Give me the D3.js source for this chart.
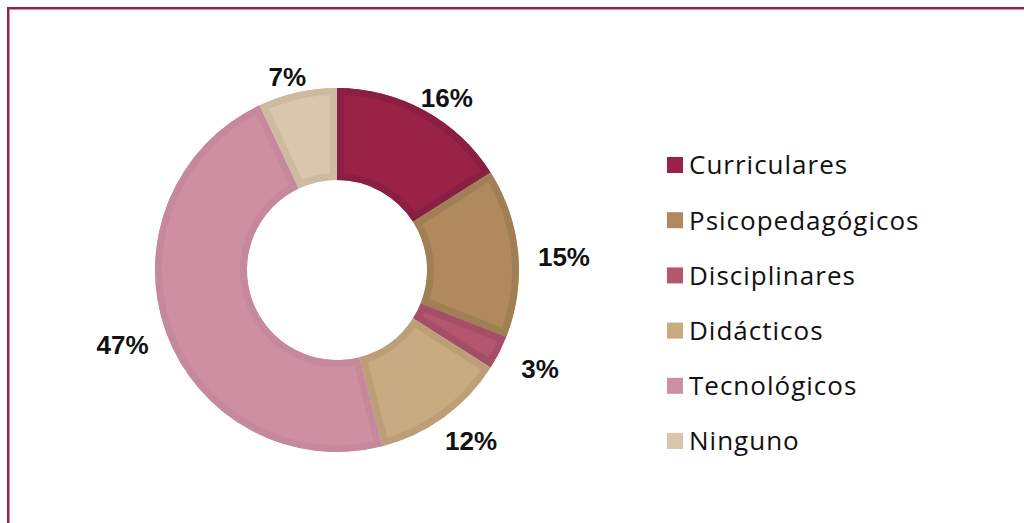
<!DOCTYPE html>
<html>
<head>
<meta charset="utf-8">
<script src="https://cdn.jsdelivr.net/npm/d3@7"></script>
<style>
  html, body { margin: 0; padding: 0; background: #fff; }
  svg { display: block; }
</style>
</head>
<body>
<div id="chart"></div>
<script>
const categories = ["Curriculares", "Psicopedagógicos", "Disciplinares", "Didácticos", "Tecnológicos", "Ninguno"];
const values = [16, 15, 3, 12, 47, 7];
const fillColors = ["#9b2247", "#b08a5c", "#b5566f", "#c9ab82", "#cf8fa3", "#d9c6ab"];
const edgeColors = ["#8b1f43", "#a07f55", "#a44f67", "#bc9f79", "#c6889c", "#cdbaa0"];

const width = 1024;
const height = 523;
const cx = 337;
const cy = 270;
const outerR = 182;
const innerR = 90;

const svg = d3.select("#chart")
    .append("svg")
    .attr("width", width)
    .attr("height", height);

// frame (only top and left edges are visible)
svg.append("rect")
    .attr("x", 8).attr("y", 8)
    .attr("width", width + 20).attr("height", height + 20)
    .attr("fill", "none")
    .attr("stroke", "#9b2247")
    .attr("stroke-width", 2);
svg.append("rect")
    .attr("x", 9.5).attr("y", 9.5)
    .attr("width", width + 20).attr("height", height + 20)
    .attr("fill", "none")
    .attr("stroke", "#d98aa3")
    .attr("stroke-width", 1);

const pie = d3.pie().sort(null).value(d => d.value);
const arcs = pie(categories.map((c, i) => ({ name: c, value: values[i], i })));

const arc = d3.arc().innerRadius(innerR).outerRadius(outerR);

const g = svg.append("g").attr("transform", `translate(${cx},${cy})`);
const defs = svg.append("defs");

arcs.forEach((d, i) => {
    defs.append("clipPath")
        .attr("id", "clip" + i)
        .append("path")
        .attr("d", arc(d));
});

g.selectAll("path.slice")
    .data(arcs)
    .enter()
    .append("path")
    .attr("class", "slice")
    .attr("d", arc)
    .attr("clip-path", (d, i) => `url(#clip${i})`)
    .attr("fill", (d, i) => fillColors[i])
    .attr("stroke", (d, i) => edgeColors[i])
    .attr("stroke-width", 14)
    .attr("stroke-linejoin", "miter");

// outside percent labels
const labelRx = 228;
const labelRy = 204;
const labelDy = 6;
g.selectAll("text.pct")
    .data(arcs)
    .enter()
    .append("text")
    .attr("class", "pct")
    .attr("x", d => Math.sin((d.startAngle + d.endAngle) / 2) * labelRx)
    .attr("y", d => -Math.cos((d.startAngle + d.endAngle) / 2) * labelRy + labelDy)
    .attr("dy", "0.36em")
    .attr("text-anchor", "middle")
    .style("font-family", "'Liberation Sans', Arial, sans-serif")
    .style("font-weight", "bold")
    .style("font-size", "26px")
    .attr("fill", "#111")
    .text(d => d.data.value + "%");

// legend
const legendY = d3.scalePoint()
    .domain(categories)
    .range([165, 441]);

const legend = svg.append("g").attr("class", "legend");
const items = legend.selectAll("g")
    .data(categories)
    .enter()
    .append("g")
    .attr("transform", d => `translate(667,${legendY(d)})`);

items.append("rect")
    .attr("x", 0).attr("y", -8)
    .attr("width", 16).attr("height", 16)
    .attr("fill", (d, i) => fillColors[i]);

items.append("text")
    .attr("x", 22)
    .attr("dy", "0.36em")
    .style("font-family", "'Open Sans', sans-serif")
    .style("font-size", "26px")
    .style("letter-spacing", "1px")
    .attr("fill", "#111")
    .text(d => d);
</script>
</body>
</html>
